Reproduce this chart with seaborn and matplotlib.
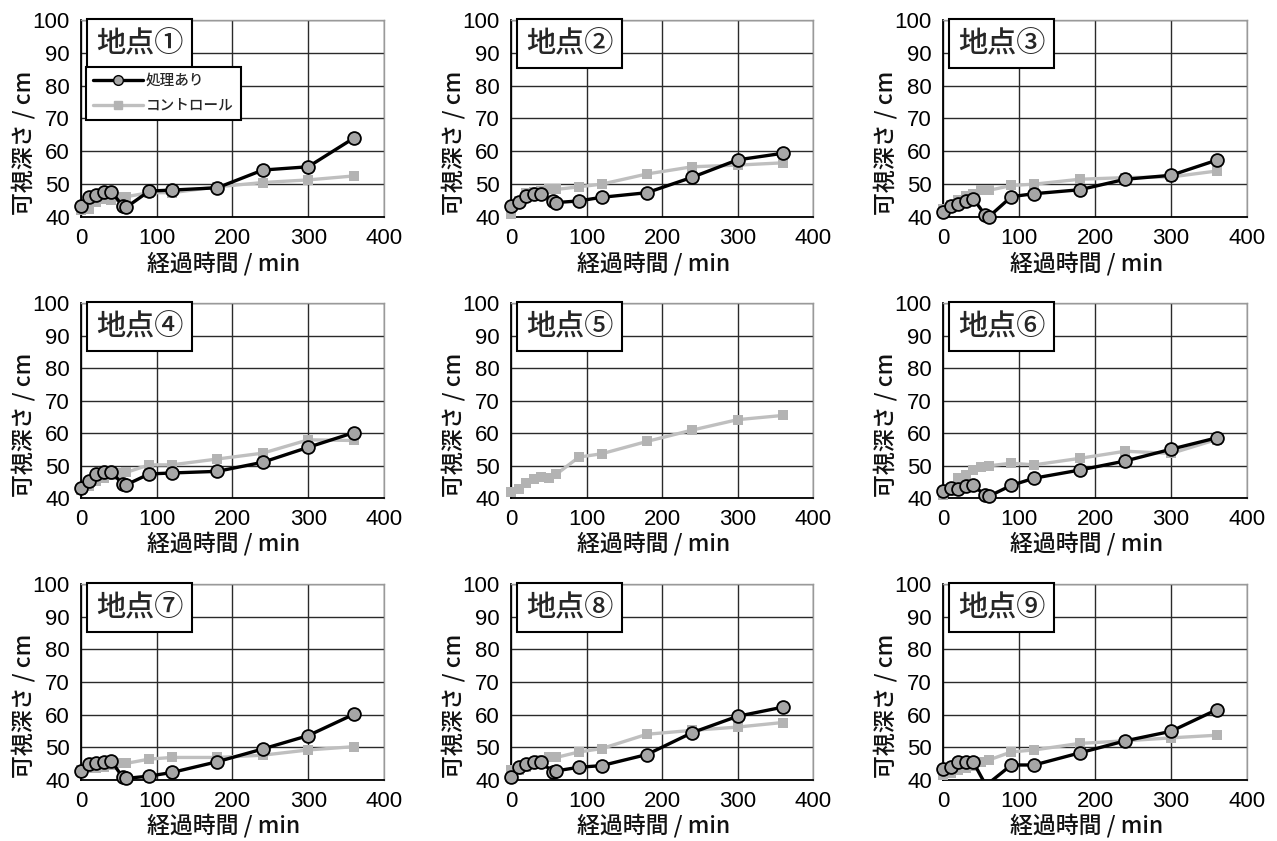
import numpy as np
import pandas as pd
import matplotlib
matplotlib.use("Agg")
import matplotlib.pyplot as plt
import seaborn as sns
from matplotlib.lines import Line2D

# ---------------- data ----------------
t_treat = [0, 10, 20, 30, 40, 55, 60, 90, 120, 180, 240, 300, 360]
t_ctrl = [0, 10, 20, 30, 40, 50, 60, 90, 120, 180, 240, 300, 360]

site_names = ["地点①", "地点②", "地点③", "地点④", "地点⑤", "地点⑥", "地点⑦", "地点⑧", "地点⑨"]

treat_1 = [43.4, 46.2, 46.7, 47.7, 47.7, 43.4, 43.0, 47.9, 48.2, 48.9, 54.3, 55.3, 64.0]
treat_2 = [43.3, 44.6, 46.4, 47.0, 47.0, 44.9, 44.4, 44.9, 46.0, 47.4, 52.1, 57.4, 59.4]
treat_3 = [41.4, 43.3, 44.0, 44.8, 45.6, 40.7, 40.0, 46.2, 47.1, 48.3, 51.5, 52.7, 57.3]
treat_4 = [43.2, 45.2, 47.5, 48.0, 48.0, 44.3, 44.1, 47.4, 47.7, 48.2, 51.0, 55.6, 60.1]
treat_5 = []
treat_6 = [42.2, 43.2, 42.8, 43.8, 44.0, 40.8, 40.5, 43.9, 46.1, 48.6, 51.4, 55.0, 58.5]
treat_7 = [42.9, 44.9, 45.1, 45.4, 45.9, 40.8, 40.5, 41.2, 42.3, 45.6, 49.5, 53.6, 60.1]
treat_8 = [41.0, 44.0, 44.8, 45.5, 45.5, 42.5, 42.8, 43.9, 44.4, 47.8, 54.5, 59.5, 62.3]
treat_9 = [43.4, 44.1, 45.4, 45.4, 45.4, 39.0, 39.0, 44.6, 44.6, 48.3, 52.0, 54.9, 61.5]

ctrl_1 = [42.0, 42.3, 44.7, 45.4, 45.2, 46.2, 46.2, 47.4, 47.4, 49.2, 50.5, 51.3, 52.5]
ctrl_2 = [40.8, 45.0, 47.2, 47.7, 48.0, 48.4, 48.4, 49.2, 50.0, 53.1, 55.3, 55.8, 56.5]
ctrl_3 = [42.3, 43.8, 45.3, 46.4, 47.0, 48.1, 48.1, 49.6, 50.0, 51.5, 52.0, 52.2, 54.0]
ctrl_4 = [42.6, 43.6, 45.1, 46.1, 47.2, 47.7, 47.9, 50.2, 50.2, 52.0, 53.8, 57.9, 57.7]
ctrl_5 = [41.9, 42.9, 44.5, 45.7, 46.6, 46.1, 47.3, 52.6, 53.6, 57.4, 60.9, 64.1, 65.4]
ctrl_6 = [40.8, 42.2, 46.1, 47.1, 48.6, 49.4, 49.9, 50.7, 50.2, 52.2, 54.4, 53.7, 58.0]
ctrl_7 = [43.1, 43.6, 43.6, 44.1, 44.6, 45.1, 45.1, 46.4, 46.9, 46.9, 47.6, 49.2, 50.2]
ctrl_8 = [43.1, 43.1, 44.1, 44.9, 46.1, 46.9, 46.9, 48.6, 49.6, 54.0, 55.2, 56.2, 57.6]
ctrl_9 = [41.5, 42.2, 43.0, 43.6, 44.4, 45.4, 46.1, 48.6, 49.2, 51.2, 52.0, 52.9, 53.7]

treatments = [treat_1, treat_2, treat_3, treat_4, treat_5, treat_6, treat_7, treat_8, treat_9]
controls = [ctrl_1, ctrl_2, ctrl_3, ctrl_4, ctrl_5, ctrl_6, ctrl_7, ctrl_8, ctrl_9]

label_treat = "処理あり"
label_ctrl = "コントロール"
xlabel = "経過時間 / min"
ylabel = "可視深さ / cm"
x_ticks = [0, 100, 200, 300, 400]
y_ticks = [40, 50, 60, 70, 80, 90, 100]

# ---------------- style ----------------
sns.set_theme(style="white")
plt.rcParams["font.family"] = ["Noto Sans CJK JP", "DejaVu Sans"]

COL_T_LINE = "#000000"
COL_T_FILL = "#a6a6a6"
COL_C = "#bfbfbf"
COL_C_MARK = "#b3b3b3"

fig = plt.figure(figsize=(12.77, 8.41), dpi=100)

lefts = [81, 511, 943]
widths = [303, 302, 304]
tops = [20, 303, 584]
heights = [197, 195, 196]
W, H = 1277, 841

for i in range(9):
    r, c = divmod(i, 3)
    ax = fig.add_axes([lefts[c] / W, 1 - (tops[r] + heights[r]) / H,
                       widths[c] / W, heights[r] / H])
    ax.set_xlim(0, 400)
    ax.set_ylim(40, 100)
    ax.set_xticks(x_ticks)
    ax.set_yticks(y_ticks)
    ax.grid(True, color="#2a2a2a", lw=1.0)
    ax.set_axisbelow(True)
    for s in ["left", "bottom"]:
        ax.spines[s].set_color("black")
        ax.spines[s].set_linewidth(1.3)
    for s in ["top", "right"]:
        ax.spines[s].set_color("#9a9a9a")
        ax.spines[s].set_linewidth(1.0)
    ax.tick_params(length=0, pad=8, labelsize=16, labelcolor="black",
                   labelfontfamily="Liberation Sans")

    # control series
    dc = pd.DataFrame({"t": t_ctrl, "v": controls[i]})
    sns.lineplot(data=dc, x="t", y="v", ax=ax, color=COL_C, lw=2.4,
                 clip_on=True, zorder=3, sort=False)
    dcm = dc[dc["v"] >= 40]
    sns.scatterplot(data=dcm, x="t", y="v", ax=ax, marker="s", s=55,
                    color=COL_C_MARK, edgecolor=COL_C_MARK, linewidth=0,
                    clip_on=False, zorder=4)

    # treatment series
    if len(treatments[i]) > 0:
        dt = pd.DataFrame({"t": t_treat, "v": treatments[i]})
        sns.lineplot(data=dt, x="t", y="v", ax=ax, color=COL_T_LINE, lw=2.4,
                     clip_on=True, zorder=5, sort=False)
        dtm = dt[dt["v"] >= 40]
        sns.scatterplot(data=dtm, x="t", y="v", ax=ax, marker="o", s=85,
                        color=COL_T_FILL, edgecolor="black", linewidth=1.3,
                        clip_on=False, zorder=6)

    ax.set_xlabel(xlabel, fontsize=16.5, va="center", fontweight="medium",
                  color="#111111")
    ax.set_ylabel(ylabel, fontsize=16.5, va="center", fontweight="medium",
                  color="#111111")
    ax.xaxis.set_label_coords(0.472, -0.234)
    ax.yaxis.set_label_coords(-0.19, 0.376)

    ax.text(0.0165 + 10 / widths[c], 1 - 8 / heights[r], site_names[i],
            transform=ax.transAxes, ha="left", va="top", fontsize=21,
            fontweight="medium", zorder=10,
            bbox=dict(boxstyle="square,pad=0.3", fc="white", ec="black", lw=1.5))

    if i == 0:
        handles = [
            Line2D([], [], color=COL_T_LINE, lw=2.4, marker="o", markersize=7,
                   markerfacecolor=COL_T_FILL, markeredgecolor="black"),
            Line2D([], [], color=COL_C, lw=2.4, marker="s", markersize=6,
                   markerfacecolor=COL_C_MARK, markeredgecolor=COL_C_MARK),
        ]
        leg = ax.legend(handles, [label_treat, label_ctrl], loc="upper left",
                        bbox_to_anchor=(0.0165, 0.763), borderaxespad=0,
                        prop={"size": 10.5, "weight": "medium"},
                        handlelength=3.4, labelspacing=0.75,
                        fancybox=False, edgecolor="black", framealpha=1,
                        borderpad=0.5, handletextpad=0.2)
        leg.get_frame().set_linewidth(1.5)
        leg.set_zorder(10)
    else:
        if ax.get_legend() is not None:
            ax.get_legend().remove()

fig.savefig("out.png", dpi=100)
